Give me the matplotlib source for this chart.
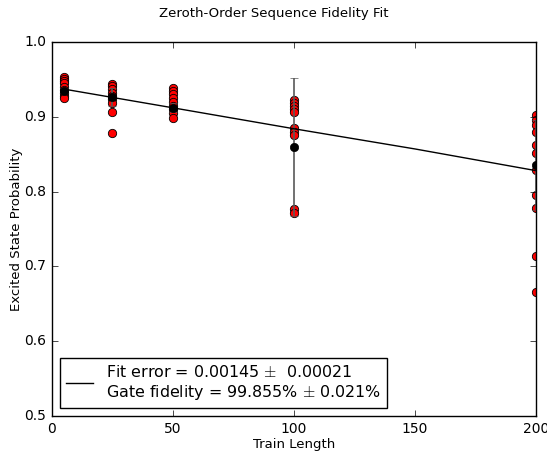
import numpy as np
import matplotlib
matplotlib.use('Agg')
import matplotlib.pyplot as plt

plt.style.use('classic')

# Measured survival probabilities for each train length
lengths = [5, 25, 50, 100, 200]
trials = [
    [0.953, 0.951, 0.948, 0.945, 0.940, 0.936, 0.932, 0.928, 0.925],
    [0.944, 0.941, 0.937, 0.932, 0.928, 0.924, 0.919, 0.906, 0.878],
    [0.939, 0.935, 0.930, 0.925, 0.920, 0.915, 0.910, 0.905, 0.898],
    [0.922, 0.918, 0.914, 0.910, 0.906, 0.885, 0.880, 0.876, 0.777, 0.772],
    [0.902, 0.896, 0.889, 0.880, 0.862, 0.852, 0.829, 0.795, 0.778, 0.714, 0.666],
]
means = [0.935, 0.926, 0.912, 0.860, 0.836]
errs = [0.003, 0.012, 0.006, 0.092, 0.060]

# Fit curve
fit_x = [5, 50, 100, 150, 200]
fit_y = [0.937, 0.912, 0.884, 0.857, 0.828]
fit_label = 'Fit error = 0.00145 $\\pm$  0.00021\nGate fidelity = 99.855% $\\pm$ 0.021%'

fig = plt.figure(figsize=(5.47, 4.54), dpi=100, facecolor='white')
ax = fig.add_axes([0.095, 0.0837, 0.885, 0.8238])

for x, vals in zip(lengths, trials):
    ax.plot([x] * len(vals), vals, 'ro', markersize=6, markeredgewidth=0.6)
ax.errorbar(lengths, means, yerr=errs, fmt='ko', ecolor='0.35', markersize=6,
            capsize=3, elinewidth=1.2)
ax.plot(fit_x, fit_y, 'k-', label=fit_label)

ax.set_xlim(0, 200)
ax.set_ylim(0.5, 1.0)
ax.set_xticks([0, 50, 100, 150, 200])
ax.set_yticks([0.5, 0.6, 0.7, 0.8, 0.9, 1.0])
ax.tick_params(labelsize=10)
ax.set_xlabel('Train Length', fontsize=9.5, labelpad=2)
ax.set_ylabel('Excited State Probability', fontsize=9.5, labelpad=1)
fig.suptitle('Zeroth-Order Sequence Fidelity Fit', fontsize=9.5, y=0.985)
ax.legend(loc='lower left', fontsize=11.4, numpoints=1, handlelength=1.7)

fig.savefig('out.png', dpi=100, facecolor='white')
